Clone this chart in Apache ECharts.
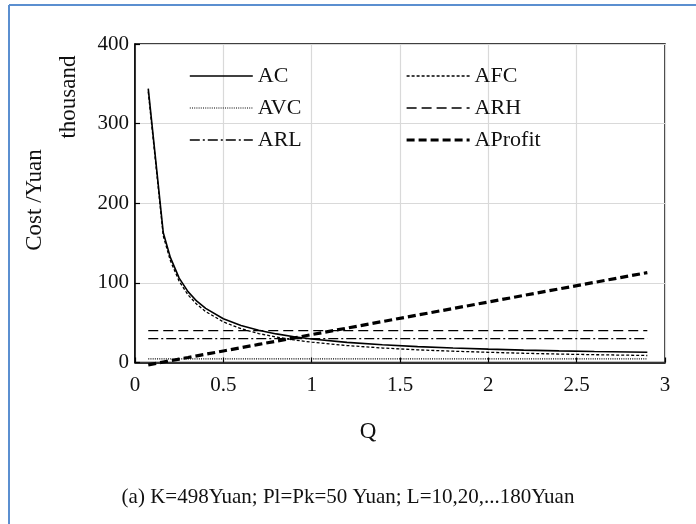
<!DOCTYPE html>
<html>
<head>
<meta charset="utf-8">
<script src="https://cdn.jsdelivr.net/npm/echarts@6/dist/echarts.min.js"></script>
<style>
html,body{margin:0;padding:0;background:#fff;}
#c{width:696px;height:524px;}
</style>
</head>
<body>
<div id="c"></div>
<script>
// Data
const Q      = [0.075, 0.16, 0.2, 0.25, 0.3, 0.35, 0.4, 0.5, 0.6, 0.7, 0.8, 0.9, 1.0, 1.2, 1.4, 1.6, 1.8, 2.0, 2.2, 2.4, 2.6, 2.9];
const AC     = [344, 163, 132, 106, 89, 77, 68, 55, 46.5, 40.4, 35.9, 32.3, 29.5, 25.3, 22.2, 19.9, 18.2, 16.8, 15.6, 14.6, 13.8, 12.8];
const AFC    = [340, 159, 128, 102, 85, 73, 64, 51, 42.5, 36.4, 31.9, 28.3, 25.5, 21.3, 18.2, 15.9, 14.2, 12.8, 11.6, 10.6, 9.8, 8.8];
const AVC    = [4.5, 4.5, 4.5, 4.5, 4.5, 4.5, 4.5, 4.5, 4.5, 4.5, 4.5, 4.5, 4.5, 4.5, 4.5, 4.5, 4.5, 4.5, 4.5, 4.5, 4.5, 4.5];
const ARH    = [40, 40, 40, 40, 40, 40, 40, 40, 40, 40, 40, 40, 40, 40, 40, 40, 40, 40, 40, 40, 40, 40];
const ARL    = [30, 30, 30, 30, 30, 30, 30, 30, 30, 30, 30, 30, 30, 30, 30, 30, 30, 30, 30, 30, 30, 30];
const AProfit= [-2.9, 0.6, 2.2, 4.3, 6.3, 8.4, 10.4, 14.5, 18.6, 22.7, 26.8, 30.9, 35, 43.2, 51.4, 59.6, 67.8, 76, 84.2, 92.4, 100.6, 112.9];

const xTicks = [0, 0.5, 1, 1.5, 2, 2.5, 3];
const yTicks = [0, 100, 200, 300, 400];
const seriesNames = ['AC', 'AFC', 'AVC', 'ARH', 'ARL', 'AProfit'];
const caption = '(a) K=498Yuan; Pl=Pk=50 Yuan; L=10,20,...180Yuan';

const FONT = '"Liberation Serif", "Times New Roman", serif';
const pairs = arr => Q.map((q, i) => [q, arr[i]]);

const styles = {
  AC:      {width: 1.6, type: 'solid'},
  AFC:     {width: 1.3, type: [3, 2]},
  AVC:     {width: 1.2, type: [1, 1.2]},
  ARH:     {width: 1.4, type: [10, 5]},
  ARL:     {width: 1.4, type: [10, 3, 2, 3]},
  AProfit: {width: 3.2, type: [8, 4]}
};
const dataMap = {AC, AFC, AVC, ARH, ARL, AProfit};

const legendItem = n => ({name: n, lineStyle: {width: styles[n].width, type: styles[n].type, color: '#000'}});
const legendCommon = {
  orient: 'vertical', top: 65,
  itemWidth: 63, itemHeight: 14, itemGap: 10,
  itemStyle: {opacity: 0},
  textStyle: {fontFamily: FONT, fontSize: 22, color: '#111'},
  padding: 0
};

const chart = echarts.init(document.getElementById('c'), null, {renderer: 'canvas'});
chart.setOption({
  backgroundColor: '#fff',
  animation: false,
  grid: {left: 135, right: 31, top: 44, bottom: 161.5, show: true, borderColor: '#000', borderWidth: 1.5, backgroundColor: 'transparent'},
  xAxis: {
    type: 'value', min: xTicks[0], max: xTicks[xTicks.length - 1], interval: 0.5,
    axisLine: {show: true, onZero: false, lineStyle: {color: '#000', width: 1.5}},
    axisTick: {show: true, inside: true, length: 5, lineStyle: {color: '#000', width: 1.2}},
    axisLabel: {color: '#111', fontFamily: FONT, fontSize: 21, margin: 12},
    splitLine: {show: true, lineStyle: {color: '#d9d9d9', width: 1.2}}
  },
  yAxis: {
    type: 'value', min: yTicks[0], max: yTicks[yTicks.length - 1], interval: 100,
    axisLine: {show: true, lineStyle: {color: '#000', width: 1.5}},
    axisTick: {show: true, inside: true, length: 5, lineStyle: {color: '#000', width: 1.2}},
    axisLabel: {color: '#111', fontFamily: FONT, fontSize: 21, margin: 6},
    splitLine: {show: true, lineStyle: {color: '#d9d9d9', width: 1.2}}
  },
  legend: [
    Object.assign({data: ['AC', 'AVC', 'ARL'].map(legendItem), left: 189}, legendCommon),
    Object.assign({data: ['AFC', 'ARH', 'AProfit'].map(legendItem), left: 405}, legendCommon)
  ],
  series: seriesNames.map(n => ({
    name: n, type: 'line', data: pairs(dataMap[n]), symbol: 'none', clip: false,
    smooth: false,
    lineStyle: {color: '#000', width: styles[n].width, type: styles[n].type},
    itemStyle: {color: '#000'},
    z: n === 'AProfit' ? 3 : 2
  })),
  graphic: [
    {type: 'line', shape: {x1: 9, y1: 5, x2: 696, y2: 5}, style: {stroke: '#5b8fd0', lineWidth: 2}},
    {type: 'line', shape: {x1: 9, y1: 5, x2: 9, y2: 524}, style: {stroke: '#5b8fd0', lineWidth: 2}},
    {type: 'text', x: 35, y: 200, rotation: Math.PI / 2,
      style: {text: 'Cost /Yuan', font: '23px ' + FONT, fill: '#111', align: 'center', verticalAlign: 'middle'}},
    {type: 'text', x: 69, y: 97, rotation: Math.PI / 2,
      style: {text: 'thousand', font: '23px ' + FONT, fill: '#111', align: 'center', verticalAlign: 'middle'}},
    {type: 'text', x: 368, y: 432,
      style: {text: 'Q', font: '23px ' + FONT, fill: '#111', align: 'center', verticalAlign: 'middle'}},
    {type: 'text', x: 348, y: 497,
      style: {text: caption, font: '21px ' + FONT, fill: '#111', align: 'center', verticalAlign: 'middle'}}
  ]
});
</script>
</body>
</html>
